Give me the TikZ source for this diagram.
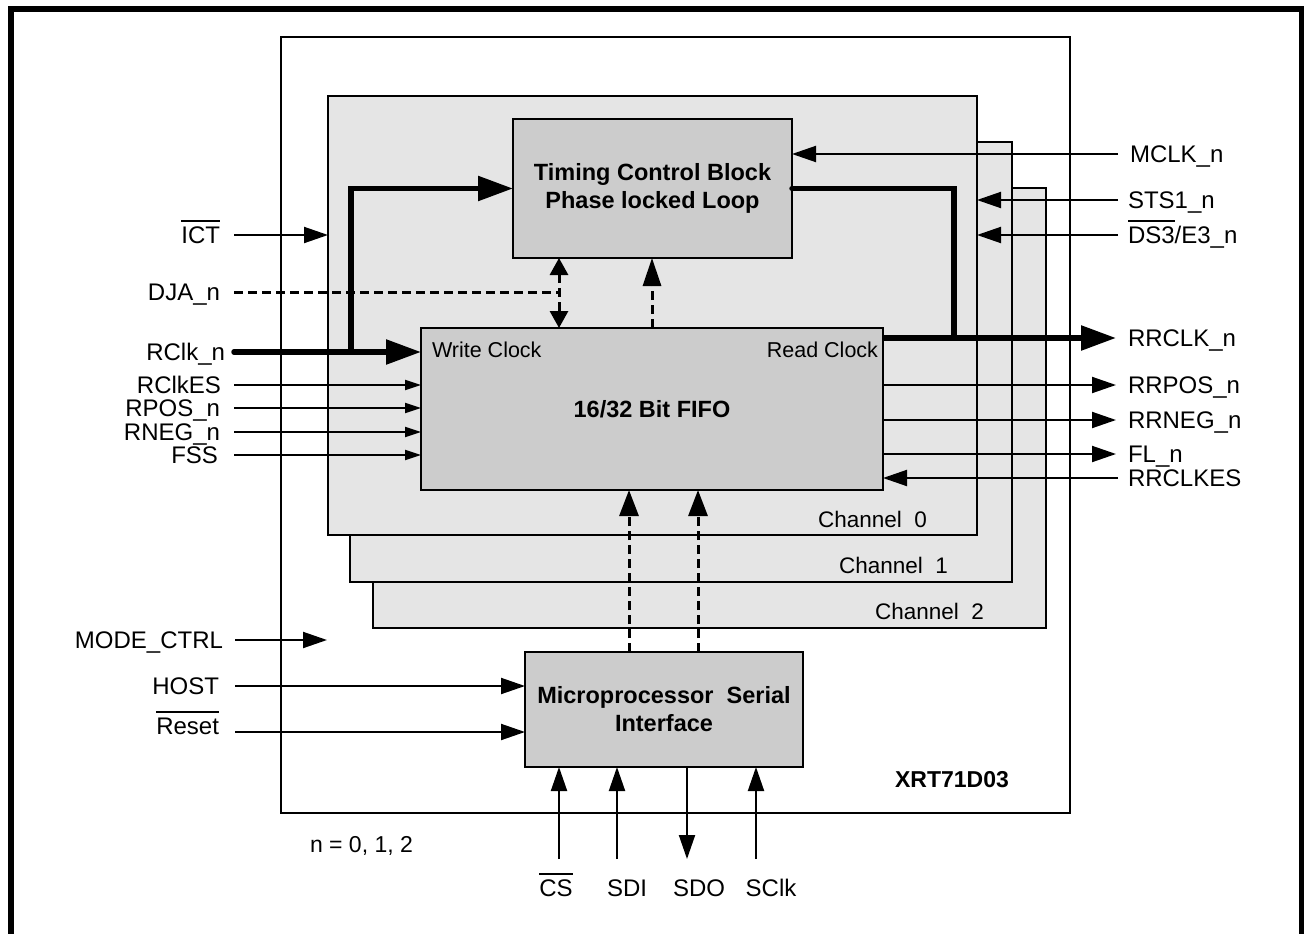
\documentclass[tikz,border=0pt]{standalone}
\usepackage{fontspec}
\setmainfont{Liberation Sans}
\usetikzlibrary{arrows.meta}
\newcommand{\olbar}[1]{\leavevmode\vbox{\hrule height 1.6pt\kern 5pt\hbox{#1}}}
\definecolor{chgray}{HTML}{E5E5E5}
\definecolor{blkgray}{HTML}{CCCCCC}
\begin{document}
\begin{tikzpicture}[x=1pt,y=-1pt,
  font=\fontsize{24}{28}\selectfont,
  lbl/.style={inner sep=0pt, outer sep=0pt, text height=17.2pt, text depth=0pt},
  smlbl/.style={inner sep=0pt, outer sep=0pt, text height=15.4pt, text depth=0pt, font=\fontsize{21.5}{26}\selectfont},
  chlbl/.style={inner sep=0pt, outer sep=0pt, text height=16.1pt, text depth=0pt, font=\fontsize{22.5}{27}\selectfont},
  blockbox/.style={draw, line width=2pt, inner sep=0pt, outer sep=0pt},
  chbox/.style={blockbox, fill=chgray},
  blk/.style={blockbox, fill=blkgray, font=\fontsize{23.5}{28}\selectfont\bfseries, align=center},
  sig/.style={line width=2pt},
  thk/.style={line width=5.5pt},
  dsh/.style={line width=3pt, dash pattern=on 9pt off 5pt},
  arrB/.style={-{Triangle[length=24pt,width=16pt]}},
  arrS/.style={-{Triangle[length=16pt,width=10pt]}},
  arrT/.style={-{Triangle[length=35pt,width=24pt]}},
  arrD/.style={-{Triangle[length=26pt,width=19pt]}},
  arrU/.style={-{Triangle[length=28pt,width=18pt]}},
  arrDD/.style={{Triangle[length=17pt,width=18pt]}-{Triangle[length=17pt,width=18pt]}}
]
\useasboundingbox (0,0) rectangle (1304,934);
\clip (0,0) rectangle (1304,934);
% outer frame
\draw[line width=6pt] (11,950) -- (11,9) -- (1302,9) -- (1302,950);

% chip and channel boxes
\node[blockbox, fill=white, minimum width=789pt, minimum height=776pt] (chip) at (675.5,425) {};
\node[chbox, minimum width=673pt, minimum height=440pt] (ch2) at (709.5,408) {};
\node[chbox, minimum width=662pt, minimum height=440pt] (ch1) at (681,362) {};
\node[chbox, minimum width=649pt, minimum height=439pt] (ch0) at (652.5,315.5) {};

\node[chlbl, anchor=east] (ch0lbl) at (927,519) {Channel\ \ 0};
\node[chlbl, anchor=east] (ch1lbl) at (948,565) {Channel\ \ 1};
\node[chlbl, anchor=east] (ch2lbl) at (984,611) {Channel\ \ 2};

% blocks
\node[blk, minimum width=279pt, minimum height=139pt] (tcb) at (652.5,188.5) {Timing Control Block\\Phase locked Loop};
\node[blk, minimum width=462pt, minimum height=162pt] (fifo) at (652,409) {16/32 Bit FIFO};
\node[blk, minimum width=278pt, minimum height=115pt] (mpi) at (664,709.5) {Microprocessor\ \ Serial\\Interface};

\node[smlbl, anchor=west] (wclk) at (432,350) {Write Clock};
\node[smlbl, anchor=east] (rdclk) at (878,350) {Read Clock};

\node[lbl, anchor=center, font=\fontsize{23}{28}\selectfont\bfseries, text height=16.5pt] (xrt) at (952,779) {XRT71D03};
\node[lbl, anchor=west, font=\fontsize{23}{28}\selectfont, text height=16.5pt] (nval) at (310,844) {n = 0, 1, 2};

% ---- left inputs
\node[lbl, anchor=east] (ict) at (220,235) {\olbar{ICT}};
\coordinate (ictS) at (234,235);
\draw[sig, arrB] (ictS) -- (ch0.west |- ictS);

\node[lbl, anchor=east] (dja) at (220,292) {DJA\_n};
\coordinate (djaS) at (234,292);
\coordinate (djaE) at (559,292);
\draw[dsh] (djaS) -- (djaE);
\draw[dsh, arrDD] (tcb.south -| djaE) -- (fifo.north -| djaE);
\draw[dsh, arrU] (fifo.north) -- (fifo.north |- tcb.south);

\node[lbl, anchor=east] (rclk) at (225,352) {RClk\_n};
\coordinate (rclkS) at (234,352);
\coordinate (rclkB) at (351,352);
\draw[thk, line cap=round, arrT] (rclkS) -- (fifo.west |- rclkS);
\draw[thk, arrT] (rclkB) |- (tcb.west);

\node[lbl, anchor=east] (rclkes) at (221,385) {RClkES};
\coordinate (rclkesS) at (234,385);
\draw[sig, arrS] (rclkesS) -- (fifo.west |- rclkesS);
\node[lbl, anchor=east] (rpos) at (220,408) {RPOS\_n};
\coordinate (rposS) at (234,408);
\draw[sig, arrS] (rposS) -- (fifo.west |- rposS);
\node[lbl, anchor=east] (rneg) at (220,432) {RNEG\_n};
\coordinate (rnegS) at (234,432);
\draw[sig, arrS] (rnegS) -- (fifo.west |- rnegS);
\node[lbl, anchor=east] (fss) at (218,455) {FSS};
\coordinate (fssS) at (234,455);
\draw[sig, arrS] (fssS) -- (fifo.west |- fssS);

\node[lbl, anchor=east] (mode) at (223,640) {MODE\_CTRL};
\coordinate (modeS) at (235,640);
\coordinate (modeE) at (327,640);
\draw[sig, arrB] (modeS) -- (modeE);

\node[lbl, anchor=east] (host) at (219,686) {HOST};
\coordinate (hostS) at (235,686);
\draw[sig, arrB] (hostS) -- (mpi.west |- hostS);

\node[lbl, anchor=east] (reset) at (219,726) {\olbar{Reset}};
\coordinate (resetS) at (235,732);
\draw[sig, arrB] (resetS) -- (mpi.west |- resetS);

% ---- right side
\node[lbl, anchor=west] (mclk) at (1130,154) {MCLK\_n};
\coordinate (mclkS) at (1118,154);
\draw[sig, arrB] (mclkS) -- (tcb.east |- mclkS);

\node[lbl, anchor=west] (sts) at (1128,200) {STS1\_n};
\coordinate (stsS) at (1118,200);
\draw[sig, arrB] (stsS) -- (ch0.east |- stsS);

\node[lbl, anchor=west] (ds3) at (1128,235) {\olbar{DS3}/E3\_n};
\coordinate (ds3S) at (1118,235);
\draw[sig, arrB] (ds3S) -- (ch0.east |- ds3S);

\coordinate (tj) at (954,338);
\draw[thk, line cap=round] (tcb.east) -| (tj);
\coordinate (rrclkE) at (1116,338);
\draw[thk, arrT] (fifo.east |- rrclkE) -- (rrclkE);
\node[lbl, anchor=west] (rrclk) at (1128,338) {RRCLK\_n};

\coordinate (rrposE) at (1116,385);
\draw[sig, arrB] (fifo.east |- rrposE) -- (rrposE);
\node[lbl, anchor=west] (rrpos) at (1128,385) {RRPOS\_n};
\coordinate (rrnegE) at (1116,420);
\draw[sig, arrB] (fifo.east |- rrnegE) -- (rrnegE);
\node[lbl, anchor=west] (rrneg) at (1128,420) {RRNEG\_n};
\coordinate (flE) at (1116,454);
\draw[sig, arrB] (fifo.east |- flE) -- (flE);
\node[lbl, anchor=west] (fl) at (1128,454) {FL\_n};
\coordinate (rrclkesS) at (1118,478);
\draw[sig, arrB] (rrclkesS) -- (fifo.east |- rrclkesS);
\node[lbl, anchor=west] (rrclkes) at (1128,478) {RRCLKES};

% ---- micro to FIFO
\coordinate (d1) at (629,652);
\coordinate (d2) at (698,652);
\draw[dsh, arrD] (mpi.north -| d1) -- (fifo.south -| d1);
\draw[dsh, arrD] (mpi.north -| d2) -- (fifo.south -| d2);

% ---- bottom serial pins
\coordinate (csS) at (559,859);
\coordinate (sdiS) at (617,859);
\coordinate (sdoE) at (687,859);
\coordinate (sclkS) at (756,859);
\draw[sig, arrB] (csS) -- (mpi.south -| csS);
\draw[sig, arrB] (sdiS) -- (mpi.south -| sdiS);
\draw[sig, arrB] (mpi.south -| sdoE) -- (sdoE);
\draw[sig, arrB] (sclkS) -- (mpi.south -| sclkS);
\node[lbl] (cs) at (556,888) {\olbar{CS}};
\node[lbl] (sdi) at (627,888) {SDI};
\node[lbl] (sdo) at (699,888) {SDO};
\node[lbl] (sclk) at (771,888) {SClk};
\end{tikzpicture}
\end{document}
